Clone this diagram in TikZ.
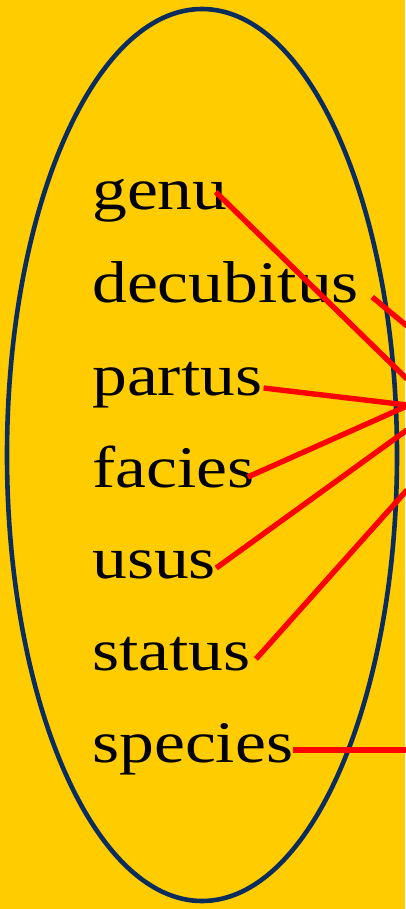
\documentclass[tikz,border=0pt]{standalone}
\usepackage{fontspec}
\setmainfont{Liberation Serif}
\newfontfamily\wordfont[FakeStretch=1.18]{Liberation Serif}
\usepackage{tikz}
\definecolor{gold}{HTML}{FFCC00}
\definecolor{navy}{HTML}{0B2D5E}

\begin{document}
\begin{tikzpicture}[
  x=1pt, y=-1pt,
  word/.style={anchor=base west, inner sep=0pt,
               font=\wordfont\fontsize{59}{62}\selectfont},
  ring/.style={draw=navy, line width=4.6pt},
  link/.style={draw=red, line width=5.4pt},
]
  \fill[gold] (0,0) rectangle (405,909);
  \useasboundingbox (0,0) rectangle (405,909);
  \draw[ring] (202,455) ellipse [x radius=195pt, y radius=446pt];
  \node[word] (genu) at (92,210) {genu};
  \node[word] (decubitus) at (92,302) {decubitus};
  \node[word] (partus) at (92,395) {partus};
  \node[word] (facies) at (92,487) {facies};
  \node[word] (usus) at (92,578) {usus};
  \node[word] (status) at (92,670) {status};
  \node[word] (species) at (92,762) {species};
  \coordinate (r1) at (407,379);
  \coordinate (r2) at (407,326);
  \coordinate (r3) at (407,405);
  \coordinate (r4) at (407,406);
  \coordinate (r5) at (407,430);
  \coordinate (r6) at (407,490);
  \coordinate (r7) at (407,750);
  \draw[link] ([xshift=-12pt, yshift=18pt]genu.base east) -- (r1);
  \draw[link] ([xshift=13pt, yshift=5pt]decubitus.base east) -- (r2);
  \draw[link] ([xshift=1pt, yshift=7pt]partus.base east) -- (r3);
  \draw[link] ([xshift=-7pt, yshift=10pt]facies.base east) -- (r4);
  \draw[link] ([xshift=0pt, yshift=10pt]usus.base east) -- (r5);
  \draw[link] ([xshift=5pt, yshift=11pt]status.base east) -- (r6);
  \draw[link] ([xshift=0pt, yshift=12pt]species.base east) -- (r7);
\end{tikzpicture}
\end{document}
